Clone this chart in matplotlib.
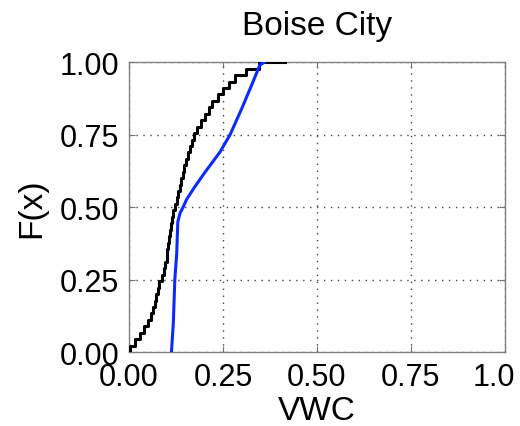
import numpy as np
import matplotlib
matplotlib.use("Agg")
import matplotlib.pyplot as plt
import matplotlib.transforms as mtransforms

plt.rcParams['font.family'] = ['Liberation Sans', 'DejaVu Sans']

title = "Boise City"
x_label = "VWC"
y_label = "F(x)"
x_ticks = [0.0, 0.25, 0.5, 0.75, 1.0]
x_tick_labels = ["0.00", "0.25", "0.50", "0.75", "1.0"]
y_ticks = [0.0, 0.25, 0.5, 0.75, 1.0]
y_tick_labels = ["0.00", "0.25", "0.50", "0.75", "1.00"]

# black series: sorted sample values (empirical CDF)
black_samples = [0.003, 0.015, 0.030, 0.040, 0.050, 0.058, 0.064, 0.069, 0.073,
                 0.078, 0.081, 0.087, 0.093, 0.097, 0.100, 0.102, 0.104, 0.106,
                 0.109, 0.112, 0.115, 0.118, 0.122, 0.127, 0.131, 0.135, 0.139,
                 0.143, 0.147, 0.152, 0.157, 0.162, 0.167, 0.172, 0.181, 0.192,
                 0.203, 0.212, 0.222, 0.236, 0.250, 0.265, 0.282, 0.310, 0.345]
black_tail_end = 0.415

# blue series: CDF curve points
blue_vwc = [0.113, 0.118, 0.122, 0.127, 0.130, 0.136, 0.144, 0.153, 0.175,
            0.202, 0.242, 0.269, 0.300, 0.326, 0.348, 0.360]
blue_F = [0.0, 0.10, 0.25, 0.34, 0.45, 0.48, 0.50, 0.526, 0.57,
          0.62, 0.69, 0.75, 0.84, 0.92, 0.99, 1.0]

fig = plt.figure(figsize=(5.2, 4.27), dpi=100)
ax = fig.add_axes([0.248, 0.173, 0.723, 0.679])

xs = np.sort(np.array(black_samples))
n = len(xs)
F = np.arange(1, n + 1) / n
bx = np.concatenate([[0.0], xs, [black_tail_end]])
bF = np.concatenate([[0.0], F, [1.0]])
ax.plot(bx, bF, drawstyle='steps-post', color='black', lw=2.2, zorder=3)
ax.plot(blue_vwc, blue_F, color='#0a2aff', lw=2.2, zorder=3)

ax.set_xlim(0, 1)
ax.set_ylim(0, 1)
ax.set_xticks(x_ticks)
ax.set_xticklabels(x_tick_labels)
ax.set_yticks(y_ticks)
ax.set_yticklabels(y_tick_labels)
ax.tick_params(direction='in', length=4, width=0.8, color='#707070',
               labelsize=22, pad=7, top=True, right=True)
ax.grid(True, linestyle=(0, (1, 4)), color='#444444', linewidth=1.0)
for s in ax.spines.values():
    s.set_color('#808080')
    s.set_linewidth(1.0)

# the last x tick label sits slightly left of its tick in the reference
last = ax.get_xticklabels()[-1]
last.set_transform(last.get_transform() +
                   mtransforms.ScaledTranslation(-11 / 100, 0, fig.dpi_scale_trans))

ax.set_title(title, fontsize=24, pad=20)
ax.set_xlabel(x_label, fontsize=24, labelpad=2)
ax.set_ylabel(y_label, fontsize=24, labelpad=9)

fig.savefig("out.png", dpi=100, facecolor='white')
